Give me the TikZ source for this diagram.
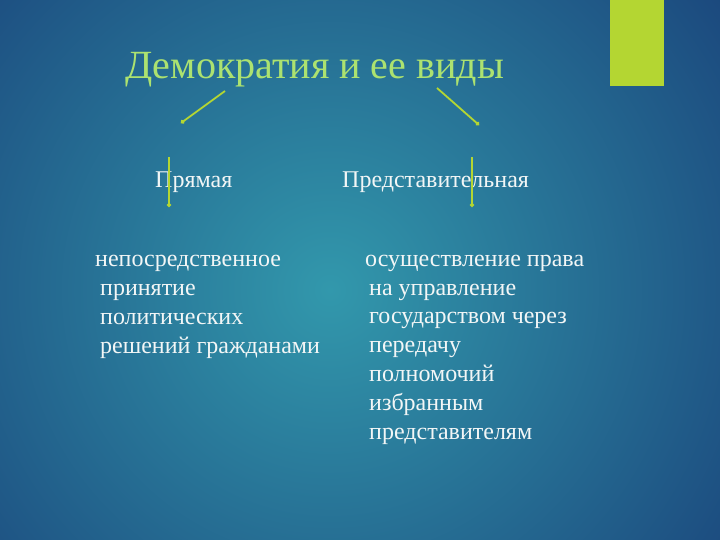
\documentclass[tikz,border=0pt]{standalone}
\usepackage{fontspec}
\setmainfont{Liberation Serif}
\usetikzlibrary{arrows.meta}

\definecolor{bgout}{RGB}{23,58,117}
\definecolor{bgin}{RGB}{50,152,172}
\definecolor{lime}{RGB}{180,214,50}
\definecolor{titlegreen}{RGB}{172,226,112}
\definecolor{txtcol}{RGB}{242,246,246}

\begin{document}
\begin{tikzpicture}[x=1pt,y=-1pt,
    txt/.style={text=txtcol, font=\fontsize{24}{28.8}\selectfont, inner sep=0pt},
    arr/.style={lime, line width=1.8pt, -{Circle[length=4pt]}}]

		\useasboundingbox (0,0) rectangle (720,540);
		\clip (0,0) rectangle (720,540);
		\fill [bgout] (0,0) rectangle (720,540);
		\shade [inner color=bgin, outer color=bgout] (330,290) circle (580);
		
		\fill [lime] (610,0) rectangle (664,86);
		
		\node [anchor=base west, text=titlegreen, font=\fontsize{40}{44}\selectfont, inner sep=0pt] (title) at (125,79) {Демократия и ее виды};
		
		\coordinate (L1) at (225,91);
		\coordinate (L2) at (181,123);
		\coordinate (R1) at (437,88);
		\coordinate (R2) at (479,125);
		
		\node [txt, anchor=base west] (direct) at (155,188) {Прямая};
		\node [txt, anchor=base west] (repr) at (342,188) {Представительная};
		
		\coordinate (P1) at (169,157);
		\coordinate (P2) at (169,207);
		\coordinate (Q1) at (472,157);
		\coordinate (Q2) at (472,207);
		
		\draw [arr] (L1) -- (L2);
		\draw [arr] (R1) -- (R2);
		\draw [arr] (P1) -- (P2);
		\draw [arr] (Q1) -- (Q2);
		
		% anchor on the last line
		\node [txt, anchor=base west, align=left] (ldef) at (100,353)
			{\kern-5pt непосредственное\\ принятие\\ политических\\ решений гражданами};
		\node [txt, anchor=base west, align=left] (rdef) at (369,439)
			{\kern-4pt осуществление права\\ на управление\\ государством через\\ передачу\\ полномочий\\ избранным\\ представителям};
\end{tikzpicture}
\end{document}
